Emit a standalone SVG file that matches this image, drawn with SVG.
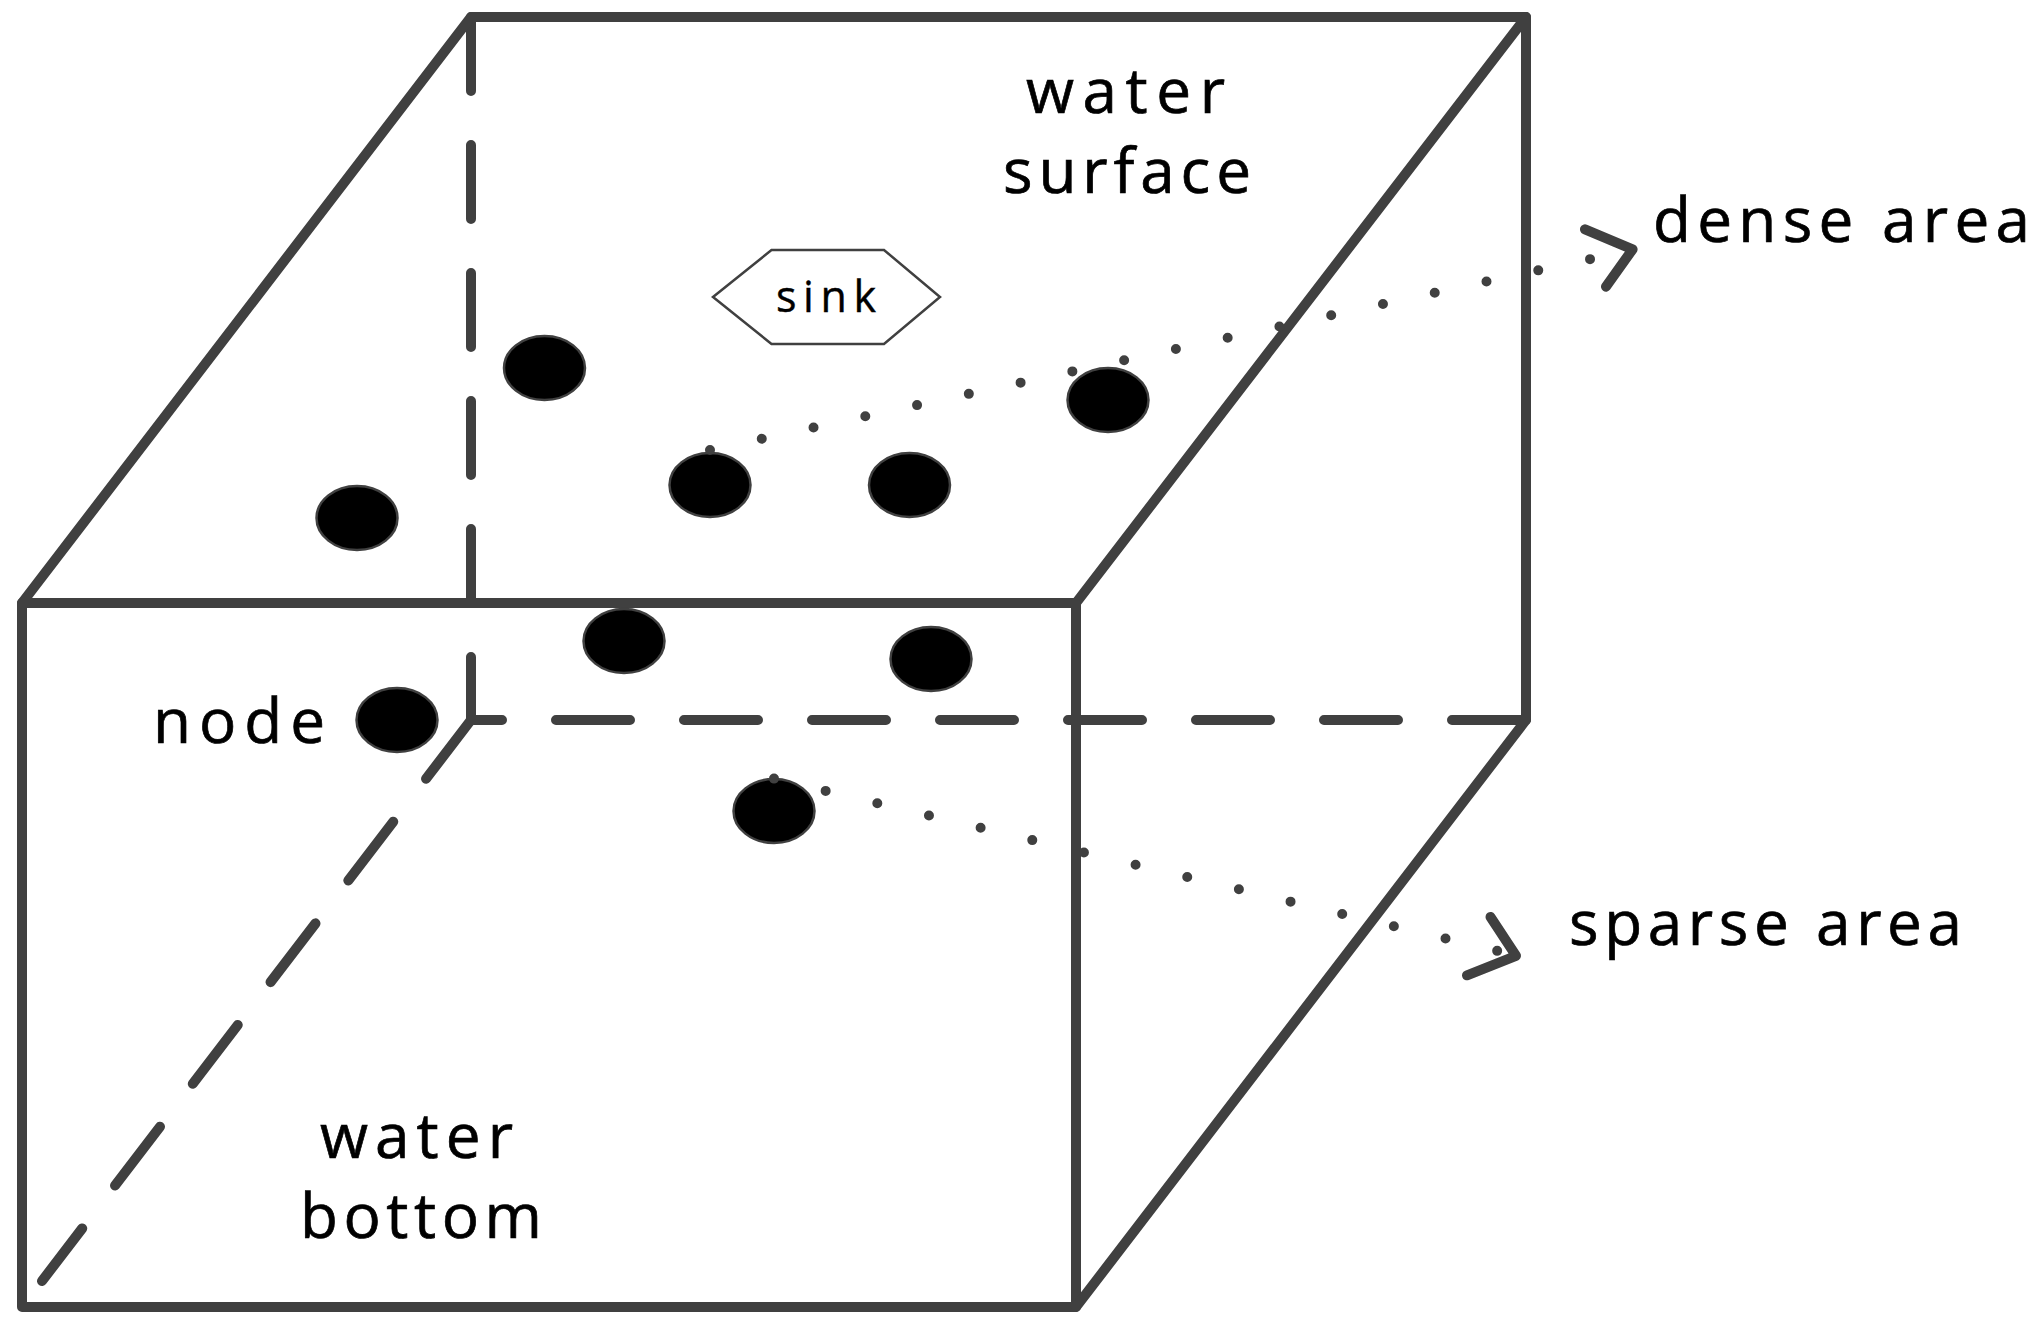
<svg xmlns="http://www.w3.org/2000/svg" width="2042" height="1330" viewBox="0 0 2042 1330">
<style>
.edge{fill:none;stroke:#404040;stroke-width:10;stroke-linecap:round;stroke-linejoin:round}
.hidden{fill:none;stroke:#404040;stroke-width:10;stroke-linecap:round;stroke-dasharray:74 54}
.node{fill:#000;stroke:#404040;stroke-width:2.5}
.dots{fill:none;stroke:#404040;stroke-width:10;stroke-linecap:round}
.head{fill:none;stroke:#404040;stroke-width:10;stroke-linecap:round;stroke-linejoin:round}
.label{font-family:"Open Sans","Noto Sans",sans-serif;font-size:62px;fill:#000;stroke:#000;stroke-width:0.7}
.sinkshape{fill:#fff;stroke:#404040;stroke-width:2.5}
.sinktext{font-family:"Open Sans","Noto Sans",sans-serif;font-size:43px;fill:#000;stroke:#000;stroke-width:0.4}
</style>
<rect width="2042" height="1330" fill="#fff"/>
<g id="cube">
  <path class="hidden" d="M471,17 V720"/>
  <path class="hidden" d="M1526,720 H471"/>
  <path class="hidden" d="M471,720 L42,1281"/>
  <path class="edge" d="M22,603 L471,17 L1526,17 L1076,603"/>
  <rect class="edge" x="22" y="603" width="1054" height="704"/>
  <path class="edge" d="M1526,17 L1526,720 L1076,1307"/>
</g>
<g id="label-water-surface">
  <text class="label" x="1026" y="113" textLength="199" lengthAdjust="spacing">water</text>
  <text class="label" x="1003" y="193" textLength="248" lengthAdjust="spacing">surface</text>
</g>
<g id="label-water-bottom">
  <text class="label" x="320" y="1158" textLength="193" lengthAdjust="spacing">water</text>
  <text class="label" x="300" y="1238" textLength="242" lengthAdjust="spacing">bottom</text>
</g>
<g id="label-node">
  <text class="label" x="153" y="743" textLength="172" lengthAdjust="spacing">node</text>
</g>
<g id="label-dense">
  <text class="label" x="1653" y="242" textLength="377" lengthAdjust="spacing">dense area</text>
</g>
<g id="label-sparse">
  <text class="label" x="1569" y="945" textLength="393" lengthAdjust="spacing">sparse area</text>
</g>
<g id="sink">
  <polygon class="sinkshape" points="713,297 771.5,250 884,250 940,297 884,344 771.5,344"/>
  <text class="sinktext" x="776" y="312" textLength="100" lengthAdjust="spacing">sink</text>
</g>
<g id="node1"><ellipse class="node" cx="544.5" cy="368" rx="40.5" ry="32"/></g>
<g id="node2"><ellipse class="node" cx="357" cy="518" rx="40.5" ry="32"/></g>
<g id="node3"><ellipse class="node" cx="710" cy="485" rx="40.5" ry="32"/></g>
<g id="node4"><ellipse class="node" cx="909.5" cy="485" rx="40.5" ry="32"/></g>
<g id="node5"><ellipse class="node" cx="1108" cy="400" rx="40.5" ry="32"/></g>
<g id="node6"><ellipse class="node" cx="624" cy="641" rx="40.5" ry="32"/></g>
<g id="node7"><ellipse class="node" cx="931" cy="659" rx="40.5" ry="32"/></g>
<g id="node8"><ellipse class="node" cx="397" cy="720" rx="40.5" ry="32"/></g>
<g id="node9"><ellipse class="node" cx="774" cy="811" rx="40.5" ry="32"/></g>
<g id="connectors">
  <path class="dots" stroke-dasharray="0 52.97" d="M710,450 L1594.8,258.1"/>
  <polyline class="head" points="1585,229.3 1632.6,249.3 1606,286.7"/>
  <path class="dots" stroke-dasharray="0 53.1" d="M774,778.6 L1502,952"/>
  <polyline class="head" points="1490.5,917 1516,955.8 1467,975.3"/>
</g>
</svg>
